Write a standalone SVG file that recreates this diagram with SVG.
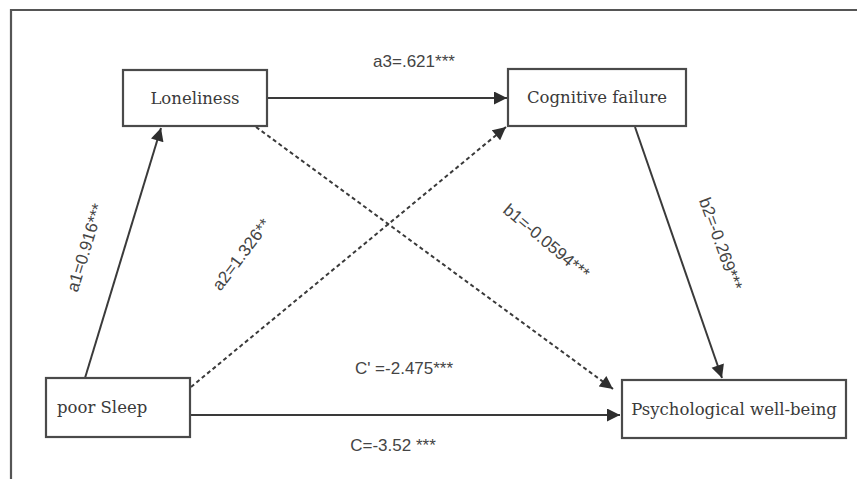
<svg xmlns="http://www.w3.org/2000/svg" width="857" height="479" viewBox="0 0 857 479">
<style>
.box{fill:#fff;stroke:#4a4a4a;stroke-width:2.2}
.nt{font-family:"DejaVu Serif","Liberation Serif",serif;font-size:16.5px;fill:#3a3a3a}
.lb{font-family:"Liberation Sans",Arial,sans-serif;font-size:17px;fill:#444}
.ln{stroke:#3a3a3a;stroke-width:2;fill:none}
.ds{stroke:#3a3a3a;stroke-width:2;fill:none;stroke-dasharray:4 3}
</style>
<defs>
<marker id="ah" viewBox="0 0 10 10" refX="10" refY="5" markerWidth="7" markerHeight="6.5" markerUnits="strokeWidth" orient="auto">
<path d="M0,0 L10,5 L0,10 z" fill="#2e2e2e"/>
</marker>
</defs>
<rect width="857" height="479" fill="#fff"/>
<path d="M11,479 V10 H857" fill="none" stroke="#555" stroke-width="2.2"/>
<g id="connectors">
<line class="ln" x1="267" y1="98" x2="507" y2="98" marker-end="url(#ah)"/>
<line class="ln" x1="85" y1="378" x2="161" y2="128" marker-end="url(#ah)"/>
<line class="ds" x1="191" y1="387" x2="506" y2="127" marker-end="url(#ah)"/>
<line class="ds" x1="256" y1="127" x2="613" y2="389" marker-end="url(#ah)"/>
<line class="ln" x1="635" y1="127" x2="722" y2="378" marker-end="url(#ah)"/>
<line class="ln" x1="190" y1="415" x2="620" y2="415" marker-end="url(#ah)"/>
</g>
<g id="loneliness">
<rect class="box" x="123" y="70" width="144" height="56"/>
<text class="nt" x="195" y="104" text-anchor="middle">Loneliness</text>
</g>
<g id="cognitive-failure">
<rect class="box" x="508" y="69" width="178" height="57"/>
<text class="nt" x="597" y="103" text-anchor="middle">Cognitive failure</text>
</g>
<g id="poor-sleep">
<rect class="box" x="46" y="378" width="144" height="59"/>
<text class="nt" x="57" y="413">poor Sleep</text>
</g>
<g id="psychological-well-being">
<rect class="box" x="622" y="380" width="224" height="58"/>
<text class="nt" x="734" y="415" text-anchor="middle">Psychological well-being</text>
</g>
<g id="labels">
<text class="lb" x="414" y="67" text-anchor="middle">a3=.621***</text>
<text class="lb" transform="translate(86,248) rotate(-73)" x="0" y="5" text-anchor="middle">a1=0.916***</text>
<text class="lb" transform="translate(242,255) rotate(-53)" x="0" y="5" text-anchor="middle">a2=1.326**</text>
<text class="lb" transform="translate(546,242) rotate(40)" x="0" y="5" text-anchor="middle">b1=-0.0594***</text>
<text class="lb" transform="translate(720,244) rotate(70)" x="0" y="5" text-anchor="middle">b2=-0.269***</text>
<text class="lb" x="404" y="374" text-anchor="middle">C' =-2.475***</text>
<text class="lb" x="393" y="451" text-anchor="middle">C=-3.52 ***</text>
</g>
</svg>
